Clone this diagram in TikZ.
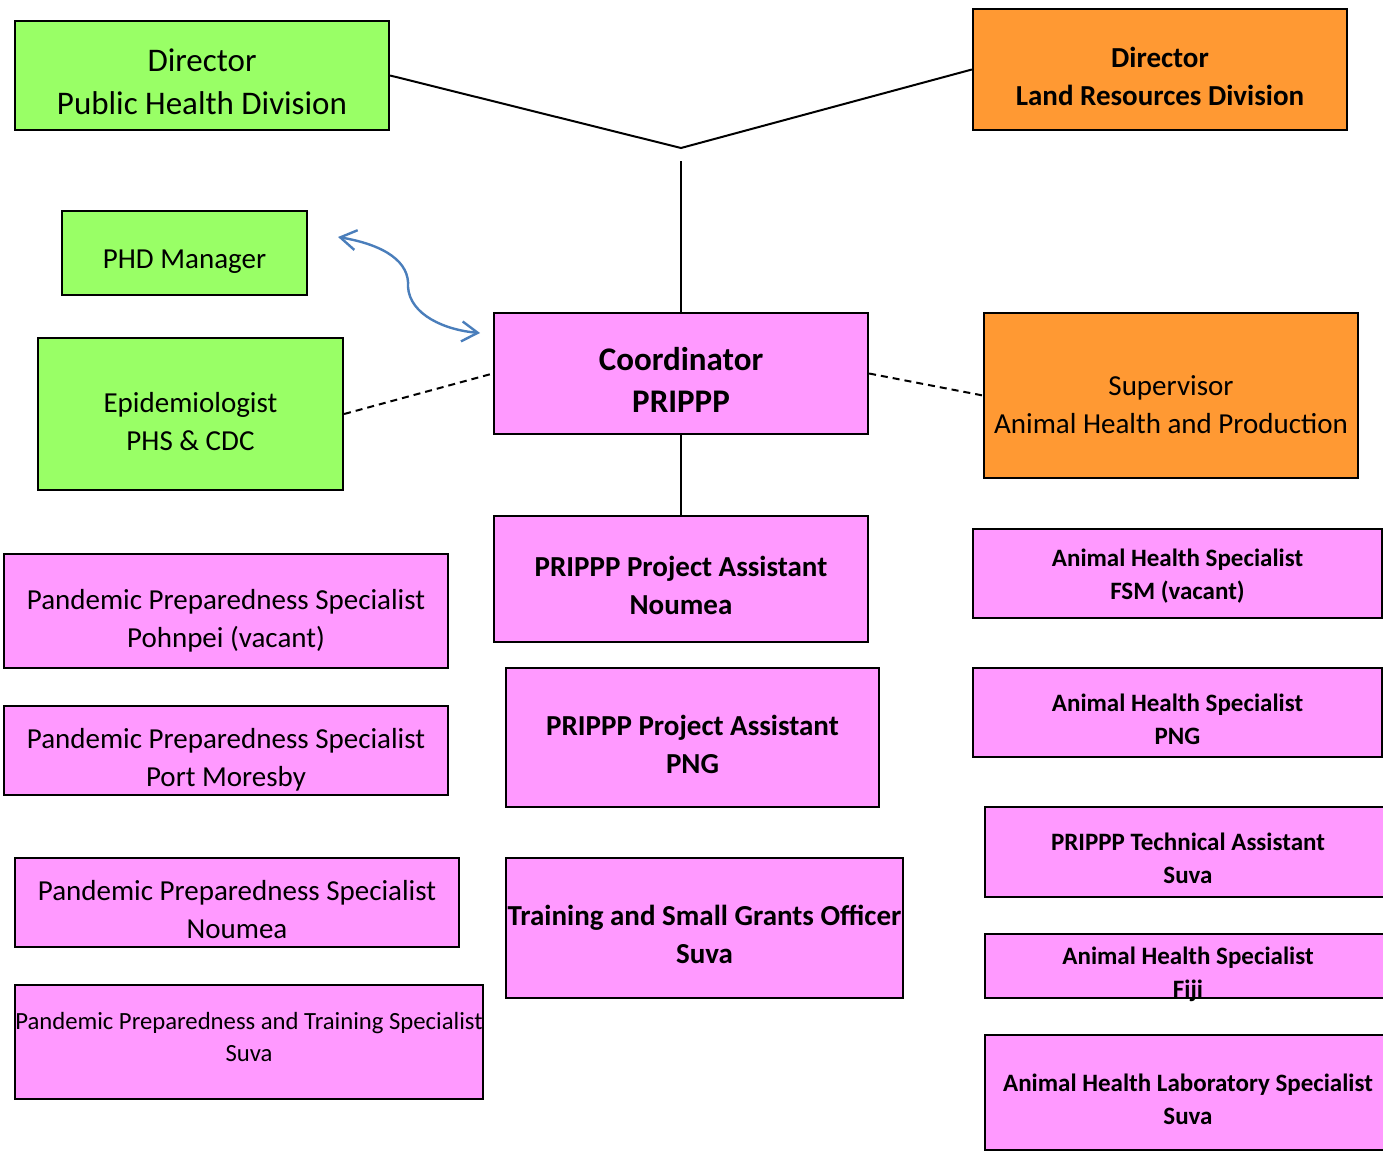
\documentclass[tikz,border=0pt]{standalone}
\usepackage{fontspec}
\setmainfont{Carlito}
\usetikzlibrary{arrows.meta}
\definecolor{cgreen}{RGB}{153,255,102}
\definecolor{corange}{RGB}{255,153,51}
\definecolor{cpink}{RGB}{255,153,255}
\definecolor{cblue}{RGB}{74,126,187}
\tikzset{
  box/.style={draw=black, line width=2.2pt, inner sep=0pt},
  gbox/.style={box, fill=cgreen},
  obox/.style={box, fill=corange},
  pbox/.style={box, fill=cpink},
  lbl/.style={inner sep=0pt, align=center, text=black},
  big/.style={lbl, font=\fontsize{33}{43}\selectfont},
  mid/.style={lbl, font=\fontsize{29}{38}\selectfont},
  midb/.style={lbl, font=\fontsize{29}{38}\selectfont\bfseries},
  bigb/.style={lbl, font=\fontsize{33}{42}\selectfont\bfseries},
  sml/.style={lbl, font=\fontsize{24.7}{32}\selectfont},
  smlb/.style={lbl, font=\fontsize{25}{33}\selectfont\bfseries},
  link/.style={draw=black, line width=2pt},
  dlink/.style={draw=black, line width=2pt, dash pattern=on 7pt off 5pt},
}
\begin{document}
\begin{tikzpicture}[x=1pt, y=-1pt]
\useasboundingbox (0,0) rectangle (1383,1153);
\clip (0,0) rectangle (1383,1153);
% boxes
\node[gbox, minimum width=374pt, minimum height=109pt] (dphd) at (202,75.5) {};
\node[obox, minimum width=374pt, minimum height=121pt] (dlrd) at (1160,69.5) {};
\node[gbox, minimum width=245pt, minimum height=84pt] (phdm) at (184.5,253) {};
\node[gbox, minimum width=305pt, minimum height=152pt] (epi) at (190.5,414) {};
\node[pbox, minimum width=374pt, minimum height=121pt] (coord) at (681,373.5) {};
\node[pbox, minimum width=374pt, minimum height=126pt] (pan) at (681,579) {};
\node[pbox, minimum width=373pt, minimum height=139pt] (papng) at (692.5,737.5) {};
\node[pbox, minimum width=397pt, minimum height=140pt] (tsgo) at (704.5,928) {};
\node[obox, minimum width=374pt, minimum height=165pt] (sup) at (1171,395.5) {};
\node[pbox, minimum width=444pt, minimum height=114pt] (pps1) at (226,611) {};
\node[pbox, minimum width=444pt, minimum height=89pt] (pps2) at (226,750.5) {};
\node[pbox, minimum width=444pt, minimum height=89pt] (pps3) at (237,902.5) {};
\node[pbox, minimum width=468pt, minimum height=114pt] (ppts) at (249,1042) {};
\node[pbox, minimum width=409pt, minimum height=89pt] (ahs1) at (1177.5,573.5) {};
\node[pbox, minimum width=409pt, minimum height=89pt] (ahs2) at (1177.5,712.5) {};
\node[pbox, minimum width=406pt, minimum height=90pt] (pta) at (1188,852) {};
\node[pbox, minimum width=406pt, minimum height=64pt] (ahsf) at (1188,966) {};
\node[pbox, minimum width=406pt, minimum height=115pt] (ahls) at (1188,1092.5) {};
% texts
\node[big] (tdphd) at ([yshift=-6pt]dphd.center) {Director\\Public Health Division};
\node[midb] (tdlrd) at ([yshift=-6.5pt]dlrd.center) {Director\\Land Resources Division};
\node[mid] (tphdm) at ([yshift=-9pt]phdm.center) {PHD Manager};
\node[mid] (tepi) at ([yshift=-8pt]epi.center) {Epidemiologist\\PHS \& CDC};
\node[bigb] (tcoord) at ([yshift=-6pt]coord.center) {Coordinator\\PRIPPP};
\node[midb] (tpan) at ([yshift=-6.5pt]pan.center) {PRIPPP Project Assistant\\Noumea};
\node[midb] (tpapng) at ([yshift=-6.5pt]papng.center) {PRIPPP Project Assistant\\PNG};
\node[midb] (ttsgo) at ([yshift=-6.5pt]tsgo.center) {Training and Small Grants Officer\\Suva};
\node[mid] (tsup) at ([yshift=-9pt]sup.center) {Supervisor\\Animal Health and Production};
\node[mid] (tpps1) at ([yshift=-9.5pt]pps1.center) {Pandemic Preparedness Specialist\\Pohnpei (vacant)};
\node[mid] (tpps2) at ([yshift=-9pt]pps2.center) {Pandemic Preparedness Specialist\\Port Moresby};
\node[mid] (tpps3) at ([yshift=-7pt]pps3.center) {Pandemic Preparedness Specialist\\Noumea};
\node[sml] (tppts) at ([yshift=5pt]ppts.center) {Pandemic Preparedness and Training Specialist\\Suva};
\node[smlb] (tahs1) at ([yshift=-3pt]ahs1.center) {Animal Health Specialist\\FSM (vacant)};
\node[smlb] (tahs2) at ([yshift=-7pt]ahs2.center) {Animal Health Specialist\\PNG};
\node[smlb] (tpta) at ([yshift=-6.5pt]pta.center) {PRIPPP Technical Assistant\\Suva};
\node[smlb] (tahsf) at ([yshift=-8pt]ahsf.center) {Animal Health Specialist\\Fiji};
\node[smlb] (tahls) at ([yshift=-7pt]ahls.center) {Animal Health Laboratory Specialist\\Suva};
% connectors
\coordinate (vtx) at (681,148);
\coordinate (vtop) at (681,161);
\draw[link] (dphd.east) -- (vtx) -- (dlrd.west);
\draw[link] (vtop) -- (coord.north);
\draw[link] (coord.south) -- (pan.north);
\draw[dlink] (epi.east) -- (coord.west);
\draw[dlink] (coord.east) -- (sup.west);
\coordinate (a1) at (338,237);
\coordinate (a2) at (480,333);
\draw[draw=cblue, line width=2.4pt, {Straight Barb[length=16pt,width=20pt]}-{Straight Barb[length=16pt,width=20pt]}]
  (a1) .. controls (385,245) and (410,262) .. (408,287) .. controls (410,315) and (445,330) .. (a2);
\end{tikzpicture}
\end{document}
